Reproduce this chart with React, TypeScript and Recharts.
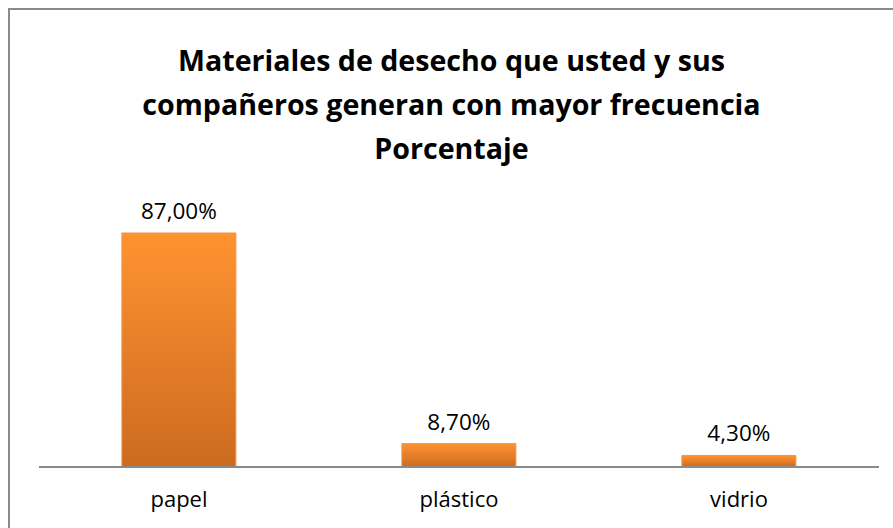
import { Bar, BarChart, LabelList, XAxis, YAxis } from "recharts";

const categories = ["papel", "plástico", "vidrio"];
const porcentajes = [87.0, 8.7, 4.3];
const titleLines = [
  "Materiales de desecho que usted y sus",
  "compañeros generan con mayor frecuencia",
  "Porcentaje",
];

const data = categories.map((name, i) => ({ name, value: porcentajes[i] }));

const fontFamily = "'Open Sans', sans-serif";

const formatPct = (v: number) => v.toFixed(2).replace(".", ",") + "%";

export default function App() {
  return (
    <div
      style={{
        position: "fixed",
        top: 8,
        left: 8,
        width: 885,
        height: 520,
        borderTop: "2px solid #8a8a8a",
        borderLeft: "2px solid #8a8a8a",
        background: "#fff",
        fontFamily,
      }}
    >
      <div
        style={{
          position: "absolute",
          top: 28,
          left: 0,
          width: 883,
          textAlign: "center",
          fontWeight: 700,
          fontSize: 28.6,
          lineHeight: "44px",
          color: "#000",
        }}
      >
        {titleLines.map((line) => (
          <div key={line}>{line}</div>
        ))}
      </div>
      <BarChart
        width={883}
        height={518}
        data={data}
        margin={{ top: 188, right: 14, left: 29, bottom: 0 }}
        barCategoryGap="29.6%"
      >
        <defs>
          <linearGradient id="orangeGradient" x1="0" y1="0" x2="0" y2="1">
            <stop offset="0%" stopColor="#ff9331" />
            <stop offset="100%" stopColor="#cc6a1f" />
          </linearGradient>
        </defs>
        <XAxis
          dataKey="name"
          height={61}
          tickLine={false}
          axisLine={{ stroke: "#8a8a8a", strokeWidth: 2 }}
          tick={{ fill: "#000", fontSize: 22, fontFamily }}
          tickMargin={18}
        />
        <YAxis hide domain={[0, 100]} />
        <Bar
          dataKey="value"
          fill="url(#orangeGradient)"
          stroke="#f2954a"
          strokeWidth={1}
          isAnimationActive={false}
        >
          <LabelList
            dataKey="value"
            position="top"
            offset={14}
            formatter={(v: any) => formatPct(Number(v))}
            style={{ fill: "#000", fontSize: 22.5, fontFamily }}
          />
        </Bar>
      </BarChart>
    </div>
  );
}
